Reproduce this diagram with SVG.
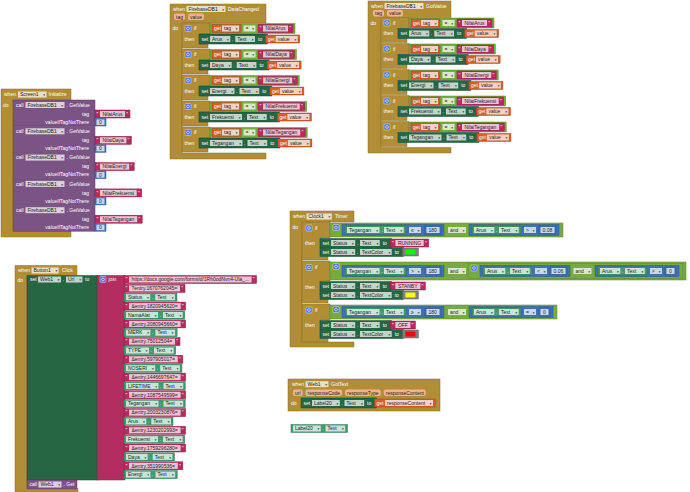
<svg xmlns="http://www.w3.org/2000/svg" width="690" height="492" viewBox="0 0 690 492">
<style>
text{font-family:"Liberation Sans",Arial,sans-serif;font-size:5px}
.w{fill:#fff}
.k{fill:#222}
.e{text-anchor:end}
.a{font-family:"DejaVu Sans",sans-serif;font-size:3.5px;fill:#333;text-anchor:end}
.ev{fill:#B18E35;stroke:#8C6E24;stroke-width:.5}
.pu{fill:#7C5385;stroke:#5E3C68;stroke-width:.5}
.sg{fill:#266643;stroke:#174A2E;stroke-width:.5}
.lg{fill:#439970;stroke:#2E7452;stroke-width:.5}
.tx{fill:#B32D5E;stroke:#8A1E45;stroke-width:.5}
.bl{fill:#3F71B5;stroke:#2B558E;stroke-width:.5}
.og{fill:#D05F2D;stroke:#A4461E;stroke-width:.5}
.lo{fill:#77AB41;stroke:#5A8A2C;stroke-width:.5}
.gy{fill:#7F7F7F;stroke:#5E5E5E;stroke-width:.5}
.fd{fill:#fff;fill-opacity:.72}
.pm{fill:#F3B28C}
.gr{fill:#4D72CF;stroke:#fff;stroke-width:.4}
.gc{fill:none;stroke:#fff;stroke-width:.6}
</style>
<rect width="690" height="492" fill="#fff"/>
<g id="connectors"/>

<!-- Screen1.Initialize -->
<g id="screen1-initialize">
<path class="ev" d="M1,89H71V100H13V231H71V237H1Z"/>
<text class="w" x="4" y="96.3">when</text>
<rect class="fd" x="18" y="91.5" width="28.6" height="6"/><text class="k" x="20" y="96.3">Screen1</text><text class="a" x="45" y="96.3">▾</text>
<text class="w" x="48.5" y="96.3">Initialize</text>
<text class="w" x="3" y="106.5">do</text>
<g id="init-get1" transform="translate(0,100)">
<rect class="pu" x="13" y="0" width="82" height="26"/>
<text class="w" x="16" y="6.8">call</text>
<rect class="fd" x="25.5" y="2" width="39" height="6"/><text class="k" x="27.5" y="6.8">FirebaseDB1</text><text class="a" x="63" y="6.8">▾</text>
<text class="w" x="66.5" y="6.8">. GetValue</text>
<text class="w e" x="89" y="15.8">tag</text>
<rect class="tx" x="95" y="10" width="35" height="8"/>
<text class="w" x="96.6" y="15.8">"</text><rect class="fd" x="100" y="11" width="25" height="6"/><text class="k" x="102.5" y="15.8">NilaiArus</text><text class="w" x="126.2" y="15.8">"</text>
<text class="w e" x="89" y="23.8">valueIfTagNotThere</text>
<rect class="bl" x="95" y="18.5" width="11" height="7.5"/><rect class="fd" x="96.5" y="19.5" width="8" height="5.5"/><text class="k" x="99" y="24">0</text>
</g>
<g id="init-get2" transform="translate(0,126.3)">
<rect class="pu" x="13" y="0" width="82" height="26"/>
<text class="w" x="16" y="6.8">call</text>
<rect class="fd" x="25.5" y="2" width="39" height="6"/><text class="k" x="27.5" y="6.8">FirebaseDB1</text><text class="a" x="63" y="6.8">▾</text>
<text class="w" x="66.5" y="6.8">. GetValue</text>
<text class="w e" x="89" y="15.8">tag</text>
<rect class="tx" x="95" y="10" width="36.4" height="8"/>
<text class="w" x="96.6" y="15.8">"</text><rect class="fd" x="100" y="11" width="26.4" height="6"/><text class="k" x="102.5" y="15.8">NilaiDaya</text><text class="w" x="127.6" y="15.8">"</text>
<text class="w e" x="89" y="23.8">valueIfTagNotThere</text>
<rect class="bl" x="95" y="18.5" width="11" height="7.5"/><rect class="fd" x="96.5" y="19.5" width="8" height="5.5"/><text class="k" x="99" y="24">0</text>
</g>
<g id="init-get3" transform="translate(0,152.6)">
<rect class="pu" x="13" y="0" width="82" height="26"/>
<text class="w" x="16" y="6.8">call</text>
<rect class="fd" x="25.5" y="2" width="39" height="6"/><text class="k" x="27.5" y="6.8">FirebaseDB1</text><text class="a" x="63" y="6.8">▾</text>
<text class="w" x="66.5" y="6.8">. GetValue</text>
<text class="w e" x="89" y="15.8">tag</text>
<rect class="tx" x="95" y="10" width="39.2" height="8"/>
<text class="w" x="96.6" y="15.8">"</text><rect class="fd" x="100" y="11" width="29.2" height="6"/><text class="k" x="102.5" y="15.8">NilaiEnergi</text><text class="w" x="130.4" y="15.8">"</text>
<text class="w e" x="89" y="23.8">valueIfTagNotThere</text>
<rect class="bl" x="95" y="18.5" width="11" height="7.5"/><rect class="fd" x="96.5" y="19.5" width="8" height="5.5"/><text class="k" x="99" y="24">0</text>
</g>
<g id="init-get4" transform="translate(0,178.9)">
<rect class="pu" x="13" y="0" width="82" height="26"/>
<text class="w" x="16" y="6.8">call</text>
<rect class="fd" x="25.5" y="2" width="39" height="6"/><text class="k" x="27.5" y="6.8">FirebaseDB1</text><text class="a" x="63" y="6.8">▾</text>
<text class="w" x="66.5" y="6.8">. GetValue</text>
<text class="w e" x="89" y="15.8">tag</text>
<rect class="tx" x="95" y="10" width="46.7" height="8"/>
<text class="w" x="96.6" y="15.8">"</text><rect class="fd" x="100" y="11" width="36.7" height="6"/><text class="k" x="102.5" y="15.8">NilaiFrekuensi</text><text class="w" x="137.9" y="15.8">"</text>
<text class="w e" x="89" y="23.8">valueIfTagNotThere</text>
<rect class="bl" x="95" y="18.5" width="11" height="7.5"/><rect class="fd" x="96.5" y="19.5" width="8" height="5.5"/><text class="k" x="99" y="24">0</text>
</g>
<g id="init-get5" transform="translate(0,205.2)">
<rect class="pu" x="13" y="0" width="82" height="26"/>
<text class="w" x="16" y="6.8">call</text>
<rect class="fd" x="25.5" y="2" width="39" height="6"/><text class="k" x="27.5" y="6.8">FirebaseDB1</text><text class="a" x="63" y="6.8">▾</text>
<text class="w" x="66.5" y="6.8">. GetValue</text>
<text class="w e" x="89" y="15.8">tag</text>
<rect class="tx" x="95" y="10" width="47.2" height="8"/>
<text class="w" x="96.6" y="15.8">"</text><rect class="fd" x="100" y="11" width="37.2" height="6"/><text class="k" x="102.5" y="15.8">NilaiTegangan</text><text class="w" x="138.4" y="15.8">"</text>
<text class="w e" x="89" y="23.8">valueIfTagNotThere</text>
<rect class="bl" x="95" y="18.5" width="11" height="7.5"/><rect class="fd" x="96.5" y="19.5" width="8" height="5.5"/><text class="k" x="99" y="24">0</text>
</g>
</g>

<!-- FirebaseDB1.DataChanged -->
<g id="firebase-datachanged">
<path class="ev" d="M170,4H266V23H182V153H266V159H170Z"/>
<text class="w" x="173" y="10.8">when</text>
<rect class="fd" x="186.5" y="6" width="39" height="6"/><text class="k" x="188.5" y="10.8">FirebaseDB1</text><text class="a" x="224" y="10.8">▾</text>
<text class="w" x="228" y="10.8">DataChanged</text>
<rect class="pm" x="174" y="13.5" width="11" height="6.5" rx="2"/><text class="k" x="176" y="18.5">tag</text>
<rect class="pm" x="188" y="13.5" width="16" height="6.5" rx="2"/><text class="k" x="190" y="18.5">value</text>
<text class="w" x="172.5" y="30">do</text>
<g id="dc-if1" transform="translate(0,23)">
<path class="ev" d="M182,0H210V11H199V21H208V25H182Z"/>
<rect class="gr" x="185" y="2.5" width="6" height="6" rx="1"/><circle class="gc" cx="188" cy="5.5" r="1.4"/>
<text class="w" x="194" y="7.3">if</text><text class="w" x="184.5" y="17.8">then</text>
<rect class="lo" x="210" y=".5" width="85" height="10"/>
<rect class="og" x="212" y="1.5" width="29" height="8"/><text class="w" x="214" y="7.3">get</text>
<rect class="fd" x="222" y="2.5" width="17" height="6"/><text class="k" x="224" y="7.3">tag</text><text class="a" x="237.5" y="7.3">▾</text>
<rect class="fd" x="243.5" y="2.5" width="12" height="6"/><text class="k" x="245.5" y="7.3">=</text><text class="a" x="254" y="7.3">▾</text>
<rect class="tx" x="258" y="1.5" width="35" height="8"/>
<text class="w" x="259.6" y="7.3">"</text><rect class="fd" x="263" y="2.5" width="25" height="6"/><text class="k" x="265.5" y="7.3">NilaiArus</text><text class="w" x="289.2" y="7.3">"</text>
<rect class="sg" x="199" y="11" width="68.7" height="10"/><text class="w" x="201.5" y="17.8">set</text>
<rect class="fd" x="210" y="13" width="20.3" height="6"/><text class="k" x="212" y="17.8">Arus</text><text class="a" x="228.8" y="17.8">▾</text>
<text class="w" x="231.8" y="17.8">.</text>
<rect class="fd" x="235.3" y="13" width="19.7" height="6"/><text class="k" x="237.3" y="17.8">Text</text><text class="a" x="253.5" y="17.8">▾</text>
<text class="w" x="258" y="17.8">to</text>
<rect class="og" x="265.7" y="12" width="34" height="8"/><text class="w" x="267.7" y="17.8">get</text>
<rect class="fd" x="275.7" y="13" width="22" height="6"/><text class="k" x="277.7" y="17.8">value</text><text class="a" x="296.2" y="17.8">▾</text>
</g>
<g id="dc-if2" transform="translate(0,49)">
<path class="ev" d="M182,0H210V11H199V21H208V25H182Z"/>
<rect class="gr" x="185" y="2.5" width="6" height="6" rx="1"/><circle class="gc" cx="188" cy="5.5" r="1.4"/>
<text class="w" x="194" y="7.3">if</text><text class="w" x="184.5" y="17.8">then</text>
<rect class="lo" x="210" y=".5" width="86.4" height="10"/>
<rect class="og" x="212" y="1.5" width="29" height="8"/><text class="w" x="214" y="7.3">get</text>
<rect class="fd" x="222" y="2.5" width="17" height="6"/><text class="k" x="224" y="7.3">tag</text><text class="a" x="237.5" y="7.3">▾</text>
<rect class="fd" x="243.5" y="2.5" width="12" height="6"/><text class="k" x="245.5" y="7.3">=</text><text class="a" x="254" y="7.3">▾</text>
<rect class="tx" x="258" y="1.5" width="36.4" height="8"/>
<text class="w" x="259.6" y="7.3">"</text><rect class="fd" x="263" y="2.5" width="26.4" height="6"/><text class="k" x="265.5" y="7.3">NilaiDaya</text><text class="w" x="290.6" y="7.3">"</text>
<rect class="sg" x="199" y="11" width="70.1" height="10"/><text class="w" x="201.5" y="17.8">set</text>
<rect class="fd" x="210" y="13" width="21.7" height="6"/><text class="k" x="212" y="17.8">Daya</text><text class="a" x="230.2" y="17.8">▾</text>
<text class="w" x="233.2" y="17.8">.</text>
<rect class="fd" x="236.7" y="13" width="19.7" height="6"/><text class="k" x="238.7" y="17.8">Text</text><text class="a" x="254.9" y="17.8">▾</text>
<text class="w" x="259.4" y="17.8">to</text>
<rect class="og" x="267.1" y="12" width="34" height="8"/><text class="w" x="269.1" y="17.8">get</text>
<rect class="fd" x="277.1" y="13" width="22" height="6"/><text class="k" x="279.1" y="17.8">value</text><text class="a" x="297.6" y="17.8">▾</text>
</g>
<g id="dc-if3" transform="translate(0,75)">
<path class="ev" d="M182,0H210V11H199V21H208V25H182Z"/>
<rect class="gr" x="185" y="2.5" width="6" height="6" rx="1"/><circle class="gc" cx="188" cy="5.5" r="1.4"/>
<text class="w" x="194" y="7.3">if</text><text class="w" x="184.5" y="17.8">then</text>
<rect class="lo" x="210" y=".5" width="89.2" height="10"/>
<rect class="og" x="212" y="1.5" width="29" height="8"/><text class="w" x="214" y="7.3">get</text>
<rect class="fd" x="222" y="2.5" width="17" height="6"/><text class="k" x="224" y="7.3">tag</text><text class="a" x="237.5" y="7.3">▾</text>
<rect class="fd" x="243.5" y="2.5" width="12" height="6"/><text class="k" x="245.5" y="7.3">=</text><text class="a" x="254" y="7.3">▾</text>
<rect class="tx" x="258" y="1.5" width="39.2" height="8"/>
<text class="w" x="259.6" y="7.3">"</text><rect class="fd" x="263" y="2.5" width="29.2" height="6"/><text class="k" x="265.5" y="7.3">NilaiEnergi</text><text class="w" x="293.4" y="7.3">"</text>
<rect class="sg" x="199" y="11" width="72.9" height="10"/><text class="w" x="201.5" y="17.8">set</text>
<rect class="fd" x="210" y="13" width="24.5" height="6"/><text class="k" x="212" y="17.8">Energi</text><text class="a" x="233" y="17.8">▾</text>
<text class="w" x="236" y="17.8">.</text>
<rect class="fd" x="239.5" y="13" width="19.7" height="6"/><text class="k" x="241.5" y="17.8">Text</text><text class="a" x="257.7" y="17.8">▾</text>
<text class="w" x="262.2" y="17.8">to</text>
<rect class="og" x="269.9" y="12" width="34" height="8"/><text class="w" x="271.9" y="17.8">get</text>
<rect class="fd" x="279.9" y="13" width="22" height="6"/><text class="k" x="281.9" y="17.8">value</text><text class="a" x="300.4" y="17.8">▾</text>
</g>
<g id="dc-if4" transform="translate(0,101)">
<path class="ev" d="M182,0H210V11H199V21H208V25H182Z"/>
<rect class="gr" x="185" y="2.5" width="6" height="6" rx="1"/><circle class="gc" cx="188" cy="5.5" r="1.4"/>
<text class="w" x="194" y="7.3">if</text><text class="w" x="184.5" y="17.8">then</text>
<rect class="lo" x="210" y=".5" width="96.7" height="10"/>
<rect class="og" x="212" y="1.5" width="29" height="8"/><text class="w" x="214" y="7.3">get</text>
<rect class="fd" x="222" y="2.5" width="17" height="6"/><text class="k" x="224" y="7.3">tag</text><text class="a" x="237.5" y="7.3">▾</text>
<rect class="fd" x="243.5" y="2.5" width="12" height="6"/><text class="k" x="245.5" y="7.3">=</text><text class="a" x="254" y="7.3">▾</text>
<rect class="tx" x="258" y="1.5" width="46.7" height="8"/>
<text class="w" x="259.6" y="7.3">"</text><rect class="fd" x="263" y="2.5" width="36.7" height="6"/><text class="k" x="265.5" y="7.3">NilaiFrekuensi</text><text class="w" x="300.9" y="7.3">"</text>
<rect class="sg" x="199" y="11" width="80.4" height="10"/><text class="w" x="201.5" y="17.8">set</text>
<rect class="fd" x="210" y="13" width="32" height="6"/><text class="k" x="212" y="17.8">Frekuensi</text><text class="a" x="240.5" y="17.8">▾</text>
<text class="w" x="243.5" y="17.8">.</text>
<rect class="fd" x="247" y="13" width="19.7" height="6"/><text class="k" x="249" y="17.8">Text</text><text class="a" x="265.2" y="17.8">▾</text>
<text class="w" x="269.7" y="17.8">to</text>
<rect class="og" x="277.4" y="12" width="34" height="8"/><text class="w" x="279.4" y="17.8">get</text>
<rect class="fd" x="287.4" y="13" width="22" height="6"/><text class="k" x="289.4" y="17.8">value</text><text class="a" x="307.9" y="17.8">▾</text>
</g>
<g id="dc-if5" transform="translate(0,127)">
<path class="ev" d="M182,0H210V11H199V21H208V25H182Z"/>
<rect class="gr" x="185" y="2.5" width="6" height="6" rx="1"/><circle class="gc" cx="188" cy="5.5" r="1.4"/>
<text class="w" x="194" y="7.3">if</text><text class="w" x="184.5" y="17.8">then</text>
<rect class="lo" x="210" y=".5" width="97.2" height="10"/>
<rect class="og" x="212" y="1.5" width="29" height="8"/><text class="w" x="214" y="7.3">get</text>
<rect class="fd" x="222" y="2.5" width="17" height="6"/><text class="k" x="224" y="7.3">tag</text><text class="a" x="237.5" y="7.3">▾</text>
<rect class="fd" x="243.5" y="2.5" width="12" height="6"/><text class="k" x="245.5" y="7.3">=</text><text class="a" x="254" y="7.3">▾</text>
<rect class="tx" x="258" y="1.5" width="47.2" height="8"/>
<text class="w" x="259.6" y="7.3">"</text><rect class="fd" x="263" y="2.5" width="37.2" height="6"/><text class="k" x="265.5" y="7.3">NilaiTegangan</text><text class="w" x="301.4" y="7.3">"</text>
<rect class="sg" x="199" y="11" width="80.9" height="10"/><text class="w" x="201.5" y="17.8">set</text>
<rect class="fd" x="210" y="13" width="32.5" height="6"/><text class="k" x="212" y="17.8">Tegangan</text><text class="a" x="241" y="17.8">▾</text>
<text class="w" x="244" y="17.8">.</text>
<rect class="fd" x="247.5" y="13" width="19.7" height="6"/><text class="k" x="249.5" y="17.8">Text</text><text class="a" x="265.7" y="17.8">▾</text>
<text class="w" x="270.2" y="17.8">to</text>
<rect class="og" x="277.9" y="12" width="34" height="8"/><text class="w" x="279.9" y="17.8">get</text>
<rect class="fd" x="287.9" y="13" width="22" height="6"/><text class="k" x="289.9" y="17.8">value</text><text class="a" x="308.4" y="17.8">▾</text>
</g>
</g>

<!-- FirebaseDB1.GotValue -->
<g id="firebase-gotvalue">
<path class="ev" d="M368,1H451V17.5H381V147.5H451V153H368Z"/>
<text class="w" x="371" y="7.8">when</text>
<rect class="fd" x="384.5" y="3" width="39" height="6"/><text class="k" x="386.5" y="7.8">FirebaseDB1</text><text class="a" x="422" y="7.8">▾</text>
<text class="w" x="426" y="7.8">GotValue</text>
<rect class="pm" x="373" y="10" width="11" height="6.5" rx="2"/><text class="k" x="375" y="15">tag</text>
<rect class="pm" x="387" y="10" width="16" height="6.5" rx="2"/><text class="k" x="389" y="15">value</text>
<text class="w" x="370.5" y="24.5">do</text>
<g id="gv-if1" transform="translate(199,17.5)">
<path class="ev" d="M182,0H210V11H199V21H208V25H182Z"/>
<rect class="gr" x="185" y="2.5" width="6" height="6" rx="1"/><circle class="gc" cx="188" cy="5.5" r="1.4"/>
<text class="w" x="194" y="7.3">if</text><text class="w" x="184.5" y="17.8">then</text>
<rect class="lo" x="210" y=".5" width="85" height="10"/>
<rect class="og" x="212" y="1.5" width="29" height="8"/><text class="w" x="214" y="7.3">get</text>
<rect class="fd" x="222" y="2.5" width="17" height="6"/><text class="k" x="224" y="7.3">tag</text><text class="a" x="237.5" y="7.3">▾</text>
<rect class="fd" x="243.5" y="2.5" width="12" height="6"/><text class="k" x="245.5" y="7.3">=</text><text class="a" x="254" y="7.3">▾</text>
<rect class="tx" x="258" y="1.5" width="35" height="8"/>
<text class="w" x="259.6" y="7.3">"</text><rect class="fd" x="263" y="2.5" width="25" height="6"/><text class="k" x="265.5" y="7.3">NilaiArus</text><text class="w" x="289.2" y="7.3">"</text>
<rect class="sg" x="199" y="11" width="68.7" height="10"/><text class="w" x="201.5" y="17.8">set</text>
<rect class="fd" x="210" y="13" width="20.3" height="6"/><text class="k" x="212" y="17.8">Arus</text><text class="a" x="228.8" y="17.8">▾</text>
<text class="w" x="231.8" y="17.8">.</text>
<rect class="fd" x="235.3" y="13" width="19.7" height="6"/><text class="k" x="237.3" y="17.8">Text</text><text class="a" x="253.5" y="17.8">▾</text>
<text class="w" x="258" y="17.8">to</text>
<rect class="og" x="265.7" y="12" width="34" height="8"/><text class="w" x="267.7" y="17.8">get</text>
<rect class="fd" x="275.7" y="13" width="22" height="6"/><text class="k" x="277.7" y="17.8">value</text><text class="a" x="296.2" y="17.8">▾</text>
</g>
<g id="gv-if2" transform="translate(199,43.5)">
<path class="ev" d="M182,0H210V11H199V21H208V25H182Z"/>
<rect class="gr" x="185" y="2.5" width="6" height="6" rx="1"/><circle class="gc" cx="188" cy="5.5" r="1.4"/>
<text class="w" x="194" y="7.3">if</text><text class="w" x="184.5" y="17.8">then</text>
<rect class="lo" x="210" y=".5" width="86.4" height="10"/>
<rect class="og" x="212" y="1.5" width="29" height="8"/><text class="w" x="214" y="7.3">get</text>
<rect class="fd" x="222" y="2.5" width="17" height="6"/><text class="k" x="224" y="7.3">tag</text><text class="a" x="237.5" y="7.3">▾</text>
<rect class="fd" x="243.5" y="2.5" width="12" height="6"/><text class="k" x="245.5" y="7.3">=</text><text class="a" x="254" y="7.3">▾</text>
<rect class="tx" x="258" y="1.5" width="36.4" height="8"/>
<text class="w" x="259.6" y="7.3">"</text><rect class="fd" x="263" y="2.5" width="26.4" height="6"/><text class="k" x="265.5" y="7.3">NilaiDaya</text><text class="w" x="290.6" y="7.3">"</text>
<rect class="sg" x="199" y="11" width="70.1" height="10"/><text class="w" x="201.5" y="17.8">set</text>
<rect class="fd" x="210" y="13" width="21.7" height="6"/><text class="k" x="212" y="17.8">Daya</text><text class="a" x="230.2" y="17.8">▾</text>
<text class="w" x="233.2" y="17.8">.</text>
<rect class="fd" x="236.7" y="13" width="19.7" height="6"/><text class="k" x="238.7" y="17.8">Text</text><text class="a" x="254.9" y="17.8">▾</text>
<text class="w" x="259.4" y="17.8">to</text>
<rect class="og" x="267.1" y="12" width="34" height="8"/><text class="w" x="269.1" y="17.8">get</text>
<rect class="fd" x="277.1" y="13" width="22" height="6"/><text class="k" x="279.1" y="17.8">value</text><text class="a" x="297.6" y="17.8">▾</text>
</g>
<g id="gv-if3" transform="translate(199,69.5)">
<path class="ev" d="M182,0H210V11H199V21H208V25H182Z"/>
<rect class="gr" x="185" y="2.5" width="6" height="6" rx="1"/><circle class="gc" cx="188" cy="5.5" r="1.4"/>
<text class="w" x="194" y="7.3">if</text><text class="w" x="184.5" y="17.8">then</text>
<rect class="lo" x="210" y=".5" width="89.2" height="10"/>
<rect class="og" x="212" y="1.5" width="29" height="8"/><text class="w" x="214" y="7.3">get</text>
<rect class="fd" x="222" y="2.5" width="17" height="6"/><text class="k" x="224" y="7.3">tag</text><text class="a" x="237.5" y="7.3">▾</text>
<rect class="fd" x="243.5" y="2.5" width="12" height="6"/><text class="k" x="245.5" y="7.3">=</text><text class="a" x="254" y="7.3">▾</text>
<rect class="tx" x="258" y="1.5" width="39.2" height="8"/>
<text class="w" x="259.6" y="7.3">"</text><rect class="fd" x="263" y="2.5" width="29.2" height="6"/><text class="k" x="265.5" y="7.3">NilaiEnergi</text><text class="w" x="293.4" y="7.3">"</text>
<rect class="sg" x="199" y="11" width="72.9" height="10"/><text class="w" x="201.5" y="17.8">set</text>
<rect class="fd" x="210" y="13" width="24.5" height="6"/><text class="k" x="212" y="17.8">Energi</text><text class="a" x="233" y="17.8">▾</text>
<text class="w" x="236" y="17.8">.</text>
<rect class="fd" x="239.5" y="13" width="19.7" height="6"/><text class="k" x="241.5" y="17.8">Text</text><text class="a" x="257.7" y="17.8">▾</text>
<text class="w" x="262.2" y="17.8">to</text>
<rect class="og" x="269.9" y="12" width="34" height="8"/><text class="w" x="271.9" y="17.8">get</text>
<rect class="fd" x="279.9" y="13" width="22" height="6"/><text class="k" x="281.9" y="17.8">value</text><text class="a" x="300.4" y="17.8">▾</text>
</g>
<g id="gv-if4" transform="translate(199,95.5)">
<path class="ev" d="M182,0H210V11H199V21H208V25H182Z"/>
<rect class="gr" x="185" y="2.5" width="6" height="6" rx="1"/><circle class="gc" cx="188" cy="5.5" r="1.4"/>
<text class="w" x="194" y="7.3">if</text><text class="w" x="184.5" y="17.8">then</text>
<rect class="lo" x="210" y=".5" width="96.7" height="10"/>
<rect class="og" x="212" y="1.5" width="29" height="8"/><text class="w" x="214" y="7.3">get</text>
<rect class="fd" x="222" y="2.5" width="17" height="6"/><text class="k" x="224" y="7.3">tag</text><text class="a" x="237.5" y="7.3">▾</text>
<rect class="fd" x="243.5" y="2.5" width="12" height="6"/><text class="k" x="245.5" y="7.3">=</text><text class="a" x="254" y="7.3">▾</text>
<rect class="tx" x="258" y="1.5" width="46.7" height="8"/>
<text class="w" x="259.6" y="7.3">"</text><rect class="fd" x="263" y="2.5" width="36.7" height="6"/><text class="k" x="265.5" y="7.3">NilaiFrekuensi</text><text class="w" x="300.9" y="7.3">"</text>
<rect class="sg" x="199" y="11" width="80.4" height="10"/><text class="w" x="201.5" y="17.8">set</text>
<rect class="fd" x="210" y="13" width="32" height="6"/><text class="k" x="212" y="17.8">Frekuensi</text><text class="a" x="240.5" y="17.8">▾</text>
<text class="w" x="243.5" y="17.8">.</text>
<rect class="fd" x="247" y="13" width="19.7" height="6"/><text class="k" x="249" y="17.8">Text</text><text class="a" x="265.2" y="17.8">▾</text>
<text class="w" x="269.7" y="17.8">to</text>
<rect class="og" x="277.4" y="12" width="34" height="8"/><text class="w" x="279.4" y="17.8">get</text>
<rect class="fd" x="287.4" y="13" width="22" height="6"/><text class="k" x="289.4" y="17.8">value</text><text class="a" x="307.9" y="17.8">▾</text>
</g>
<g id="gv-if5" transform="translate(199,121.5)">
<path class="ev" d="M182,0H210V11H199V21H208V25H182Z"/>
<rect class="gr" x="185" y="2.5" width="6" height="6" rx="1"/><circle class="gc" cx="188" cy="5.5" r="1.4"/>
<text class="w" x="194" y="7.3">if</text><text class="w" x="184.5" y="17.8">then</text>
<rect class="lo" x="210" y=".5" width="97.2" height="10"/>
<rect class="og" x="212" y="1.5" width="29" height="8"/><text class="w" x="214" y="7.3">get</text>
<rect class="fd" x="222" y="2.5" width="17" height="6"/><text class="k" x="224" y="7.3">tag</text><text class="a" x="237.5" y="7.3">▾</text>
<rect class="fd" x="243.5" y="2.5" width="12" height="6"/><text class="k" x="245.5" y="7.3">=</text><text class="a" x="254" y="7.3">▾</text>
<rect class="tx" x="258" y="1.5" width="47.2" height="8"/>
<text class="w" x="259.6" y="7.3">"</text><rect class="fd" x="263" y="2.5" width="37.2" height="6"/><text class="k" x="265.5" y="7.3">NilaiTegangan</text><text class="w" x="301.4" y="7.3">"</text>
<rect class="sg" x="199" y="11" width="80.9" height="10"/><text class="w" x="201.5" y="17.8">set</text>
<rect class="fd" x="210" y="13" width="32.5" height="6"/><text class="k" x="212" y="17.8">Tegangan</text><text class="a" x="241" y="17.8">▾</text>
<text class="w" x="244" y="17.8">.</text>
<rect class="fd" x="247.5" y="13" width="19.7" height="6"/><text class="k" x="249.5" y="17.8">Text</text><text class="a" x="265.7" y="17.8">▾</text>
<text class="w" x="270.2" y="17.8">to</text>
<rect class="og" x="277.9" y="12" width="34" height="8"/><text class="w" x="279.9" y="17.8">get</text>
<rect class="fd" x="287.9" y="13" width="22" height="6"/><text class="k" x="289.9" y="17.8">value</text><text class="a" x="308.4" y="17.8">▾</text>
</g>
</g>

<!-- Clock1.Timer -->
<g id="clock1-timer">
<path class="ev" d="M290,211H354V222H302V342H354V347H290Z"/>
<text class="w" x="293" y="218.3">when</text>
<rect class="fd" x="306.5" y="213.5" width="25.3" height="6"/><text class="k" x="308.5" y="218.3">Clock1</text><text class="a" x="330.3" y="218.3">▾</text>
<text class="w" x="335" y="218.3">Timer</text>
<text class="w" x="292.5" y="229">do</text>

<g id="clk-if1">
<path class="ev" d="M302,222H330V238H320V256.5H328V260H302Z"/>
<rect class="gr" x="306" y="225" width="6" height="6" rx="1"/><circle class="gc" cx="309" cy="228" r="1.4"/>
<text class="w" x="315" y="229.8">if</text><text class="w" x="305" y="245">then</text>
<rect class="lo" x="330" y="223" width="233" height="14"/>
<rect class="gr" x="333" y="224.5" width="6" height="6" rx="1"/><circle class="gc" cx="336" cy="227.5" r="1.4"/>
<rect class="bl" x="342" y="224.5" width="102" height="11"/>
<rect class="lg" x="345" y="226" width="61" height="8"/>
<rect class="fd" x="347" y="227" width="32.5" height="6"/><text class="k" x="349" y="231.8">Tegangan</text><text class="a" x="378" y="231.8">▾</text>
<text class="w" x="381.5" y="231.8">.</text>
<rect class="fd" x="384" y="227" width="19.7" height="6"/><text class="k" x="386" y="231.8">Text</text><text class="a" x="402.2" y="231.8">▾</text>
<rect class="fd" x="409" y="227" width="12" height="6"/><text class="k" x="411" y="231.8">≤</text><text class="a" x="419.5" y="231.8">▾</text>
<rect class="bl" x="425" y="226" width="16" height="8"/><rect class="fd" x="426.5" y="227" width="13" height="6"/><text class="k" x="428.5" y="231.8">180</text>
<rect class="fd" x="448" y="227" width="18" height="6"/><text class="k" x="450" y="231.8">and</text><text class="a" x="464.5" y="231.8">▾</text>
<rect class="bl" x="469" y="224.5" width="90" height="11"/>
<rect class="lg" x="472" y="226" width="49" height="8"/>
<rect class="fd" x="474" y="227" width="20.3" height="6"/><text class="k" x="476" y="231.8">Arus</text><text class="a" x="492.8" y="231.8">▾</text>
<text class="w" x="496" y="231.8">.</text>
<rect class="fd" x="499" y="227" width="19.7" height="6"/><text class="k" x="501" y="231.8">Text</text><text class="a" x="517.2" y="231.8">▾</text>
<rect class="fd" x="524" y="227" width="12" height="6"/><text class="k" x="526" y="231.8">&gt;</text><text class="a" x="534.5" y="231.8">▾</text>
<rect class="bl" x="539" y="226" width="17" height="8"/><rect class="fd" x="540.5" y="227" width="14" height="6"/><text class="k" x="542.5" y="231.8">0.08</text>
<g transform="translate(0,238.5)">
<rect class="sg" x="320" y="0" width="71.4" height="9"/><text class="w" x="322.5" y="6.3">set</text>
<rect class="fd" x="331" y="1.5" width="24.2" height="6"/><text class="k" x="333" y="6.3">Status</text><text class="a" x="353.7" y="6.3">▾</text>
<text class="w" x="357" y="6.3">.</text>
<rect class="fd" x="360" y="1.5" width="19.7" height="6"/><text class="k" x="362" y="6.3">Text</text><text class="a" x="378.2" y="6.3">▾</text>
<text class="w" x="382.7" y="6.3">to</text>
<rect class="tx" x="390.4" y=".5" width="38.3" height="8"/><text class="w" x="392" y="6.3">"</text>
<rect class="fd" x="395.4" y="1.5" width="28.3" height="6"/><text class="k" x="397.9" y="6.3">RUNNING</text><text class="w" x="424.9" y="6.3">"</text>
</g>
<g transform="translate(0,247.5)">
<rect class="sg" x="320" y="0" width="83.4" height="9"/><text class="w" x="322.5" y="6.3">set</text>
<rect class="fd" x="331" y="1.5" width="24.2" height="6"/><text class="k" x="333" y="6.3">Status</text><text class="a" x="353.7" y="6.3">▾</text>
<text class="w" x="357" y="6.3">.</text>
<rect class="fd" x="360" y="1.5" width="31.7" height="6"/><text class="k" x="362" y="6.3">TextColor</text><text class="a" x="390.2" y="6.3">▾</text>
<text class="w" x="394.7" y="6.3">to</text>
<rect class="gy" x="402.4" y=".5" width="16" height="8"/><rect x="405.4" y="2" width="10" height="5" fill="#00FF00"/>
</g>
</g>

<g id="clk-if2">
<path class="ev" d="M302,261H330V281H320V299.5H328V303H302Z"/>
<rect class="gr" x="306" y="264.5" width="6" height="6" rx="1"/><circle class="gc" cx="309" cy="267.5" r="1.4"/>
<text class="w" x="315" y="269.3">if</text><text class="w" x="305" y="288.5">then</text>
<rect class="lo" x="330" y="262" width="356" height="18"/>
<rect class="gr" x="333" y="263.5" width="6" height="6" rx="1"/><circle class="gc" cx="336" cy="266.5" r="1.4"/>
<rect class="bl" x="342" y="265.5" width="102" height="11"/>
<rect class="lg" x="345" y="267" width="61" height="8"/>
<rect class="fd" x="347" y="268" width="32.5" height="6"/><text class="k" x="349" y="272.8">Tegangan</text><text class="a" x="378" y="272.8">▾</text>
<text class="w" x="381.5" y="272.8">.</text>
<rect class="fd" x="384" y="268" width="19.7" height="6"/><text class="k" x="386" y="272.8">Text</text><text class="a" x="402.2" y="272.8">▾</text>
<rect class="fd" x="409" y="268" width="12" height="6"/><text class="k" x="411" y="272.8">&gt;</text><text class="a" x="419.5" y="272.8">▾</text>
<rect class="bl" x="425" y="267" width="16" height="8"/><rect class="fd" x="426.5" y="268" width="13" height="6"/><text class="k" x="428.5" y="272.8">180</text>
<rect class="fd" x="448" y="268" width="18" height="6"/><text class="k" x="450" y="272.8">and</text><text class="a" x="464.5" y="272.8">▾</text>
<rect class="lo" x="468" y="263.5" width="215" height="15"/>
<rect class="gr" x="471" y="265" width="6" height="6" rx="1"/><circle class="gc" cx="474" cy="268" r="1.4"/>
<rect class="bl" x="480" y="265.5" width="90" height="11"/>
<rect class="lg" x="483" y="267" width="49" height="8"/>
<rect class="fd" x="485" y="268" width="20.3" height="6"/><text class="k" x="487" y="272.8">Arus</text><text class="a" x="503.8" y="272.8">▾</text>
<text class="w" x="507" y="272.8">.</text>
<rect class="fd" x="510" y="268" width="19.7" height="6"/><text class="k" x="512" y="272.8">Text</text><text class="a" x="528.2" y="272.8">▾</text>
<rect class="fd" x="535" y="268" width="12" height="6"/><text class="k" x="537" y="272.8">&lt;</text><text class="a" x="545.5" y="272.8">▾</text>
<rect class="bl" x="550" y="267" width="17" height="8"/><rect class="fd" x="551.5" y="268" width="14" height="6"/><text class="k" x="553.5" y="272.8">0.06</text>
<rect class="fd" x="573.5" y="268" width="18" height="6"/><text class="k" x="575.5" y="272.8">and</text><text class="a" x="590" y="272.8">▾</text>
<rect class="bl" x="595" y="265.5" width="84" height="11"/>
<rect class="lg" x="598" y="267" width="49" height="8"/>
<rect class="fd" x="600" y="268" width="20.3" height="6"/><text class="k" x="602" y="272.8">Arus</text><text class="a" x="618.8" y="272.8">▾</text>
<text class="w" x="622" y="272.8">.</text>
<rect class="fd" x="625" y="268" width="19.7" height="6"/><text class="k" x="627" y="272.8">Text</text><text class="a" x="643.2" y="272.8">▾</text>
<rect class="fd" x="650" y="268" width="12" height="6"/><text class="k" x="652" y="272.8">≠</text><text class="a" x="660.5" y="272.8">▾</text>
<rect class="bl" x="665" y="267" width="11" height="8"/><rect class="fd" x="666.5" y="268" width="8" height="6"/><text class="k" x="669" y="272.8">0</text>
<g transform="translate(0,281.5)">
<rect class="sg" x="320" y="0" width="71.4" height="9"/><text class="w" x="322.5" y="6.3">set</text>
<rect class="fd" x="331" y="1.5" width="24.2" height="6"/><text class="k" x="333" y="6.3">Status</text><text class="a" x="353.7" y="6.3">▾</text>
<text class="w" x="357" y="6.3">.</text>
<rect class="fd" x="360" y="1.5" width="19.7" height="6"/><text class="k" x="362" y="6.3">Text</text><text class="a" x="378.2" y="6.3">▾</text>
<text class="w" x="382.7" y="6.3">to</text>
<rect class="tx" x="390.4" y=".5" width="35" height="8"/><text class="w" x="392" y="6.3">"</text>
<rect class="fd" x="395.4" y="1.5" width="25" height="6"/><text class="k" x="397.9" y="6.3">STANBY</text><text class="w" x="421.6" y="6.3">"</text>
</g>
<g transform="translate(0,290.5)">
<rect class="sg" x="320" y="0" width="83.4" height="9"/><text class="w" x="322.5" y="6.3">set</text>
<rect class="fd" x="331" y="1.5" width="24.2" height="6"/><text class="k" x="333" y="6.3">Status</text><text class="a" x="353.7" y="6.3">▾</text>
<text class="w" x="357" y="6.3">.</text>
<rect class="fd" x="360" y="1.5" width="31.7" height="6"/><text class="k" x="362" y="6.3">TextColor</text><text class="a" x="390.2" y="6.3">▾</text>
<text class="w" x="394.7" y="6.3">to</text>
<rect class="gy" x="402.4" y=".5" width="16" height="8"/><rect x="405.4" y="2" width="10" height="5" fill="#FFFF00"/>
</g>
</g>

<g id="clk-if3">
<path class="ev" d="M302,304H330V320H320V338.5H328V342H302Z"/>
<rect class="gr" x="306" y="307" width="6" height="6" rx="1"/><circle class="gc" cx="309" cy="310" r="1.4"/>
<text class="w" x="315" y="311.8">if</text><text class="w" x="305" y="327">then</text>
<rect class="lo" x="330" y="305" width="227" height="14"/>
<rect class="gr" x="333" y="306.5" width="6" height="6" rx="1"/><circle class="gc" cx="336" cy="309.5" r="1.4"/>
<rect class="bl" x="342" y="306.5" width="102" height="11"/>
<rect class="lg" x="345" y="308" width="61" height="8"/>
<rect class="fd" x="347" y="309" width="32.5" height="6"/><text class="k" x="349" y="313.8">Tegangan</text><text class="a" x="378" y="313.8">▾</text>
<text class="w" x="381.5" y="313.8">.</text>
<rect class="fd" x="384" y="309" width="19.7" height="6"/><text class="k" x="386" y="313.8">Text</text><text class="a" x="402.2" y="313.8">▾</text>
<rect class="fd" x="409" y="309" width="12" height="6"/><text class="k" x="411" y="313.8">≥</text><text class="a" x="419.5" y="313.8">▾</text>
<rect class="bl" x="425" y="308" width="16" height="8"/><rect class="fd" x="426.5" y="309" width="13" height="6"/><text class="k" x="428.5" y="313.8">180</text>
<rect class="fd" x="448" y="309" width="18" height="6"/><text class="k" x="450" y="313.8">and</text><text class="a" x="464.5" y="313.8">▾</text>
<rect class="bl" x="469" y="306.5" width="84" height="11"/>
<rect class="lg" x="472" y="308" width="49" height="8"/>
<rect class="fd" x="474" y="309" width="20.3" height="6"/><text class="k" x="476" y="313.8">Arus</text><text class="a" x="492.8" y="313.8">▾</text>
<text class="w" x="496" y="313.8">.</text>
<rect class="fd" x="499" y="309" width="19.7" height="6"/><text class="k" x="501" y="313.8">Text</text><text class="a" x="517.2" y="313.8">▾</text>
<rect class="fd" x="524" y="309" width="12" height="6"/><text class="k" x="526" y="313.8">=</text><text class="a" x="534.5" y="313.8">▾</text>
<rect class="bl" x="539" y="308" width="11" height="8"/><rect class="fd" x="540.5" y="309" width="8" height="6"/><text class="k" x="543" y="313.8">0</text>
<g transform="translate(0,320.5)">
<rect class="sg" x="320" y="0" width="71.4" height="9"/><text class="w" x="322.5" y="6.3">set</text>
<rect class="fd" x="331" y="1.5" width="24.2" height="6"/><text class="k" x="333" y="6.3">Status</text><text class="a" x="353.7" y="6.3">▾</text>
<text class="w" x="357" y="6.3">.</text>
<rect class="fd" x="360" y="1.5" width="19.7" height="6"/><text class="k" x="362" y="6.3">Text</text><text class="a" x="378.2" y="6.3">▾</text>
<text class="w" x="382.7" y="6.3">to</text>
<rect class="tx" x="390.4" y=".5" width="25" height="8"/><text class="w" x="392" y="6.3">"</text>
<rect class="fd" x="395.4" y="1.5" width="15" height="6"/><text class="k" x="397.9" y="6.3">OFF</text><text class="w" x="411.6" y="6.3">"</text>
</g>
<g transform="translate(0,329.5)">
<rect class="sg" x="320" y="0" width="83.4" height="9"/><text class="w" x="322.5" y="6.3">set</text>
<rect class="fd" x="331" y="1.5" width="24.2" height="6"/><text class="k" x="333" y="6.3">Status</text><text class="a" x="353.7" y="6.3">▾</text>
<text class="w" x="357" y="6.3">.</text>
<rect class="fd" x="360" y="1.5" width="31.7" height="6"/><text class="k" x="362" y="6.3">TextColor</text><text class="a" x="390.2" y="6.3">▾</text>
<text class="w" x="394.7" y="6.3">to</text>
<rect class="gy" x="402.4" y=".5" width="16" height="8"/><rect x="405.4" y="2" width="10" height="5" fill="#FF0000"/>
</g>
</g>
</g>

<!-- Web1.GotText -->
<g id="web1-gottext">
<rect class="ev" x="288" y="379" width="152" height="32"/>
<text class="w" x="292" y="386">when</text>
<rect class="fd" x="305.5" y="381.2" width="23" height="6"/><text class="k" x="307.5" y="386">Web1</text><text class="a" x="327" y="386">▾</text>
<text class="w" x="331" y="386">GotText</text>
<rect class="pm" x="293" y="389.5" width="9.6" height="6.5" rx="2"/><text class="k" x="295" y="394.5">url</text>
<rect class="pm" x="305.6" y="389.5" width="36.5" height="6.5" rx="2"/><text class="k" x="307.6" y="394.5">responseCode</text>
<rect class="pm" x="345.1" y="389.5" width="35.7" height="6.5" rx="2"/><text class="k" x="347.1" y="394.5">responseType</text>
<rect class="pm" x="383.8" y="389.5" width="42" height="6.5" rx="2"/><text class="k" x="385.8" y="394.5">responseContent</text>
<text class="w" x="291" y="404.8">do</text>
<rect class="sg" x="301" y="398" width="75.5" height="10"/><text class="w" x="303.5" y="404.8">set</text>
<rect class="fd" x="312" y="400" width="27.8" height="6"/><text class="k" x="314" y="404.8">Label20</text><text class="a" x="338.3" y="404.8">▾</text>
<text class="w" x="341.3" y="404.8">.</text>
<rect class="fd" x="344.5" y="400" width="19.7" height="6"/><text class="k" x="346.5" y="404.8">Text</text><text class="a" x="362.7" y="404.8">▾</text>
<text class="w" x="367" y="404.8">to</text>
<rect class="og" x="374.5" y="399" width="61" height="8"/><text class="w" x="376.5" y="404.8">get</text>
<rect class="fd" x="385" y="400" width="48" height="6"/><text class="k" x="387" y="404.8">responseContent</text><text class="a" x="431.5" y="404.8">▾</text>
</g>

<!-- Label20.Text -->
<g id="label20-text">
<rect class="lg" x="291" y="424.5" width="56.5" height="8"/>
<rect class="fd" x="293" y="425.5" width="27.8" height="6"/><text class="k" x="295" y="430.3">Label20</text><text class="a" x="319.3" y="430.3">▾</text>
<text class="w" x="322.3" y="430.3">.</text>
<rect class="fd" x="325.5" y="425.5" width="19.7" height="6"/><text class="k" x="327.5" y="430.3">Text</text><text class="a" x="343.7" y="430.3">▾</text>
</g>

<!-- Button1.Click -->
<g id="button1-click">
<path class="ev" d="M15,265.5H77V275.5H27V488.5H78V492H15Z"/>
<text class="w" x="18" y="272.3">when</text>
<rect class="fd" x="31.5" y="267.5" width="27.2" height="6"/><text class="k" x="33.5" y="272.3">Button1</text><text class="a" x="57.2" y="272.3">▾</text>
<text class="w" x="62" y="272.3">Click</text>
<text class="w" x="17.5" y="282">do</text>
<rect class="sg" x="27" y="275.5" width="71" height="204.5"/>
<text class="w" x="30" y="281.3">set</text>
<rect class="fd" x="38" y="276.5" width="23" height="6"/><text class="k" x="40" y="281.3">Web1</text><text class="a" x="59.5" y="281.3">▾</text>
<text class="w" x="62.5" y="281.3">.</text>
<rect class="fd" x="66" y="276.5" width="16.4" height="6"/><text class="k" x="68" y="281.3">Url</text><text class="a" x="80.9" y="281.3">▾</text>
<text class="w" x="85" y="281.3">to</text>
<rect class="tx" x="97" y="275.5" width="28" height="204.5"/>
<rect class="gr" x="100" y="276.5" width="6" height="6" rx="1"/><circle class="gc" cx="103" cy="279.5" r="1.4"/>
<text class="w" x="108.5" y="281.3">join</text>

<g transform="translate(0,275.5)"><rect class="tx" x="124" y="0" width="132.6" height="8"/><text class="w" x="125.6" y="5.8">"</text><rect class="fd" x="129" y="1" width="122.6" height="6"/><text class="k" x="131.5" y="5.8">https://docs.google.com/forms/d/1Rh0odNvn4-Ula_...</text><text class="w" x="252.8" y="5.8">"</text></g>
<g transform="translate(0,284.4)"><rect class="tx" x="124" y="0" width="61" height="8"/><text class="w" x="125.6" y="5.8">"</text><rect class="fd" x="129" y="1" width="51" height="6"/><text class="k" x="131.5" y="5.8">?entry.1670762045=</text><text class="w" x="181.2" y="5.8">"</text></g>
<g transform="translate(0,293.2)"><rect class="lg" x="124" y="0" width="53" height="8"/><rect class="fd" x="126" y="1" width="24.2" height="6"/><text class="k" x="128" y="5.8">Status</text><text class="a" x="148.7" y="5.8">▾</text><text class="w" x="151.7" y="5.8">.</text><rect class="fd" x="155.2" y="1" width="19.7" height="6"/><text class="k" x="157.2" y="5.8">Text</text><text class="a" x="173.4" y="5.8">▾</text></g>
<g transform="translate(0,302.1)"><rect class="tx" x="124" y="0" width="61.6" height="8"/><text class="w" x="125.6" y="5.8">"</text><rect class="fd" x="129" y="1" width="51.6" height="6"/><text class="k" x="131.5" y="5.8">&amp;entry.1820945620=</text><text class="w" x="181.8" y="5.8">"</text></g>
<g transform="translate(0,311)"><rect class="lg" x="124" y="0" width="60.7" height="8"/><rect class="fd" x="126" y="1" width="32" height="6"/><text class="k" x="128" y="5.8">NamaAlat</text><text class="a" x="156.5" y="5.8">▾</text><text class="w" x="159.5" y="5.8">.</text><rect class="fd" x="163" y="1" width="19.7" height="6"/><text class="k" x="165" y="5.8">Text</text><text class="a" x="181.2" y="5.8">▾</text></g>
<g transform="translate(0,319.9)"><rect class="tx" x="124" y="0" width="61.6" height="8"/><text class="w" x="125.6" y="5.8">"</text><rect class="fd" x="129" y="1" width="51.6" height="6"/><text class="k" x="131.5" y="5.8">&amp;entry.2080945660=</text><text class="w" x="181.8" y="5.8">"</text></g>
<g transform="translate(0,328.7)"><rect class="lg" x="124" y="0" width="53.1" height="8"/><rect class="fd" x="126" y="1" width="24.4" height="6"/><text class="k" x="128" y="5.8">MERK</text><text class="a" x="148.9" y="5.8">▾</text><text class="w" x="151.9" y="5.8">.</text><rect class="fd" x="155.4" y="1" width="19.7" height="6"/><text class="k" x="157.4" y="5.8">Text</text><text class="a" x="173.6" y="5.8">▾</text></g>
<g transform="translate(0,337.6)"><rect class="tx" x="124" y="0" width="56" height="8"/><text class="w" x="125.6" y="5.8">"</text><rect class="fd" x="129" y="1" width="46" height="6"/><text class="k" x="131.5" y="5.8">&amp;entry.75012504=</text><text class="w" x="176.2" y="5.8">"</text></g>
<g transform="translate(0,346.5)"><rect class="lg" x="124" y="0" width="51.7" height="8"/><rect class="fd" x="126" y="1" width="23" height="6"/><text class="k" x="128" y="5.8">TYPE</text><text class="a" x="147.5" y="5.8">▾</text><text class="w" x="150.5" y="5.8">.</text><rect class="fd" x="154" y="1" width="19.7" height="6"/><text class="k" x="156" y="5.8">Text</text><text class="a" x="172.2" y="5.8">▾</text></g>
<g transform="translate(0,355.3)"><rect class="tx" x="124" y="0" width="58.8" height="8"/><text class="w" x="125.6" y="5.8">"</text><rect class="fd" x="129" y="1" width="48.8" height="6"/><text class="k" x="131.5" y="5.8">&amp;entry.597905017=</text><text class="w" x="179" y="5.8">"</text></g>
<g transform="translate(0,364.2)"><rect class="lg" x="124" y="0" width="57.9" height="8"/><rect class="fd" x="126" y="1" width="29.2" height="6"/><text class="k" x="128" y="5.8">NOSERI</text><text class="a" x="153.7" y="5.8">▾</text><text class="w" x="156.7" y="5.8">.</text><rect class="fd" x="160.2" y="1" width="19.7" height="6"/><text class="k" x="162.2" y="5.8">Text</text><text class="a" x="178.4" y="5.8">▾</text></g>
<g transform="translate(0,373.1)"><rect class="tx" x="124" y="0" width="61.6" height="8"/><text class="w" x="125.6" y="5.8">"</text><rect class="fd" x="129" y="1" width="51.6" height="6"/><text class="k" x="131.5" y="5.8">&amp;entry.1446697647=</text><text class="w" x="181.8" y="5.8">"</text></g>
<g transform="translate(0,381.9)"><rect class="lg" x="124" y="0" width="61.2" height="8"/><rect class="fd" x="126" y="1" width="32.5" height="6"/><text class="k" x="128" y="5.8">LIFETIME</text><text class="a" x="157" y="5.8">▾</text><text class="w" x="160" y="5.8">.</text><rect class="fd" x="163.5" y="1" width="19.7" height="6"/><text class="k" x="165.5" y="5.8">Text</text><text class="a" x="181.7" y="5.8">▾</text></g>
<g transform="translate(0,390.8)"><rect class="tx" x="124" y="0" width="61.6" height="8"/><text class="w" x="125.6" y="5.8">"</text><rect class="fd" x="129" y="1" width="51.6" height="6"/><text class="k" x="131.5" y="5.8">&amp;entry.1087549599=</text><text class="w" x="181.8" y="5.8">"</text></g>
<g transform="translate(0,399.7)"><rect class="lg" x="124" y="0" width="61.2" height="8"/><rect class="fd" x="126" y="1" width="32.5" height="6"/><text class="k" x="128" y="5.8">Tegangan</text><text class="a" x="157" y="5.8">▾</text><text class="w" x="160" y="5.8">.</text><rect class="fd" x="163.5" y="1" width="19.7" height="6"/><text class="k" x="165.5" y="5.8">Text</text><text class="a" x="181.7" y="5.8">▾</text></g>
<g transform="translate(0,408.6)"><rect class="tx" x="124" y="0" width="61.6" height="8"/><text class="w" x="125.6" y="5.8">"</text><rect class="fd" x="129" y="1" width="51.6" height="6"/><text class="k" x="131.5" y="5.8">&amp;entry.2003230876=</text><text class="w" x="181.8" y="5.8">"</text></g>
<g transform="translate(0,417.4)"><rect class="lg" x="124" y="0" width="49" height="8"/><rect class="fd" x="126" y="1" width="20.3" height="6"/><text class="k" x="128" y="5.8">Arus</text><text class="a" x="144.8" y="5.8">▾</text><text class="w" x="147.8" y="5.8">.</text><rect class="fd" x="151.3" y="1" width="19.7" height="6"/><text class="k" x="153.3" y="5.8">Text</text><text class="a" x="169.5" y="5.8">▾</text></g>
<g transform="translate(0,426.3)"><rect class="tx" x="124" y="0" width="61.6" height="8"/><text class="w" x="125.6" y="5.8">"</text><rect class="fd" x="129" y="1" width="51.6" height="6"/><text class="k" x="131.5" y="5.8">&amp;entry.1230202993=</text><text class="w" x="181.8" y="5.8">"</text></g>
<g transform="translate(0,435.2)"><rect class="lg" x="124" y="0" width="60.7" height="8"/><rect class="fd" x="126" y="1" width="32" height="6"/><text class="k" x="128" y="5.8">Frekuensi</text><text class="a" x="156.5" y="5.8">▾</text><text class="w" x="159.5" y="5.8">.</text><rect class="fd" x="163" y="1" width="19.7" height="6"/><text class="k" x="165" y="5.8">Text</text><text class="a" x="181.2" y="5.8">▾</text></g>
<g transform="translate(0,444)"><rect class="tx" x="124" y="0" width="61.6" height="8"/><text class="w" x="125.6" y="5.8">"</text><rect class="fd" x="129" y="1" width="51.6" height="6"/><text class="k" x="131.5" y="5.8">&amp;entry.1759296280=</text><text class="w" x="181.8" y="5.8">"</text></g>
<g transform="translate(0,452.9)"><rect class="lg" x="124" y="0" width="50.4" height="8"/><rect class="fd" x="126" y="1" width="21.7" height="6"/><text class="k" x="128" y="5.8">Daya</text><text class="a" x="146.2" y="5.8">▾</text><text class="w" x="149.2" y="5.8">.</text><rect class="fd" x="152.7" y="1" width="19.7" height="6"/><text class="k" x="154.7" y="5.8">Text</text><text class="a" x="170.9" y="5.8">▾</text></g>
<g transform="translate(0,461.8)"><rect class="tx" x="124" y="0" width="58.8" height="8"/><text class="w" x="125.6" y="5.8">"</text><rect class="fd" x="129" y="1" width="48.8" height="6"/><text class="k" x="131.5" y="5.8">&amp;entry.351990536=</text><text class="w" x="179" y="5.8">"</text></g>
<g transform="translate(0,470.6)"><rect class="lg" x="124" y="0" width="53.2" height="8"/><rect class="fd" x="126" y="1" width="24.5" height="6"/><text class="k" x="128" y="5.8">Energi</text><text class="a" x="149" y="5.8">▾</text><text class="w" x="152" y="5.8">.</text><rect class="fd" x="155.5" y="1" width="19.7" height="6"/><text class="k" x="157.5" y="5.8">Text</text><text class="a" x="173.7" y="5.8">▾</text></g>

<rect class="pu" x="27" y="480" width="50" height="9"/>
<text class="w" x="29.5" y="486.3">call</text>
<rect class="fd" x="38.5" y="481.5" width="23" height="6"/><text class="k" x="40.5" y="486.3">Web1</text><text class="a" x="60" y="486.3">▾</text>
<text class="w" x="63.5" y="486.3">. Get</text>
</g>
</svg>
